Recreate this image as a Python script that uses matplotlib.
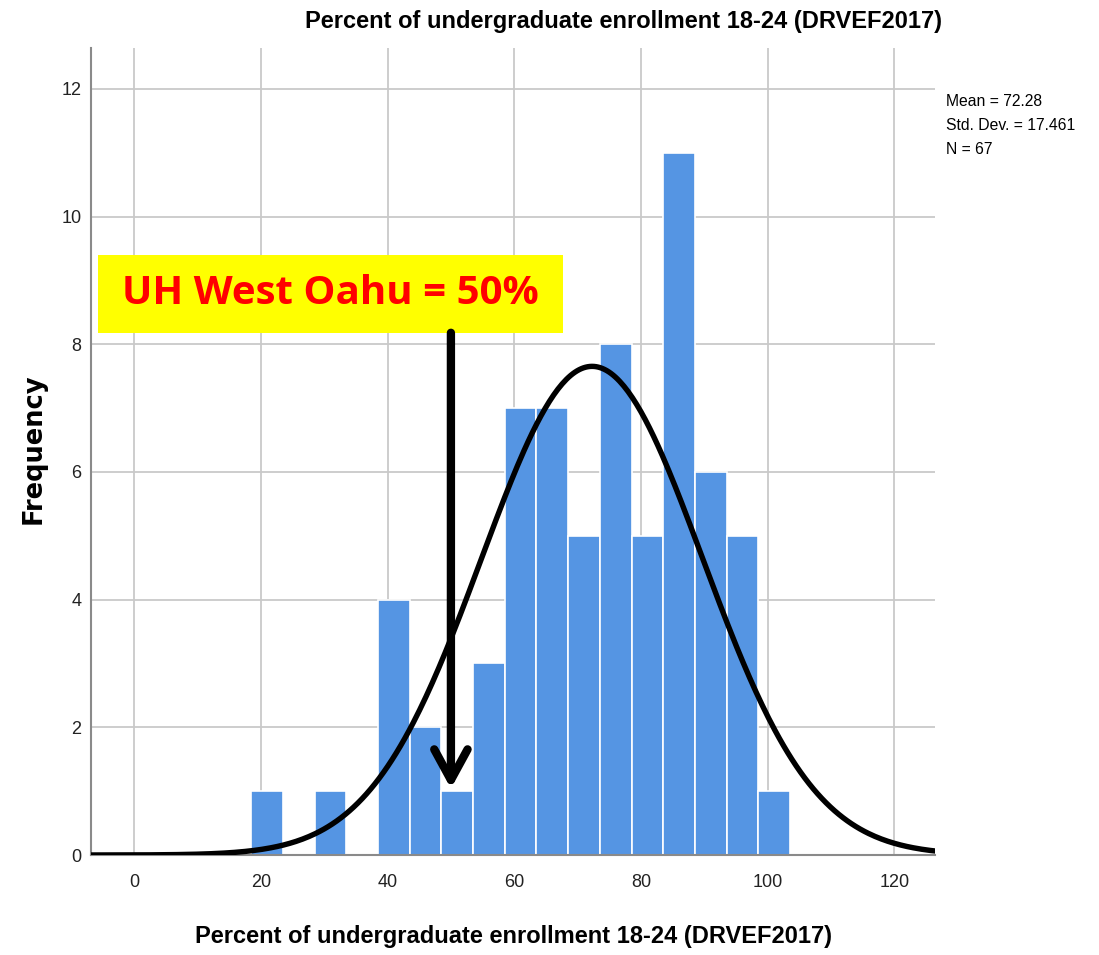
import numpy as np
import matplotlib
matplotlib.use("Agg")
import matplotlib.pyplot as plt
from matplotlib.patches import Rectangle

##################
# Data           #
##################
bin_edges = [18.5, 23.5, 28.5, 33.5, 38.5, 43.5, 48.5, 53.5, 58.5,
             63.5, 68.5, 73.5, 78.5, 83.5, 88.5, 93.5, 98.5, 103.5]
counts = [1, 0, 1, 0, 4, 2, 1, 3, 7, 7, 5, 8, 5, 11, 6, 5, 1]
x_ticks = [0, 20, 40, 60, 80, 100, 120]
y_ticks = [0, 2, 4, 6, 8, 10, 12]
stat_mean = 72.28
stat_sd = 17.461
stat_n = 67
highlight_value = 50
highlight_label = "UH West Oahu = 50%"
title_text = "Percent of undergraduate enrollment 18-24 (DRVEF2017)"

BAR_COLOR = "#5595e3"
GRID_COLOR = "#c9c9c9"
NARROW = ["Liberation Sans Narrow", "Liberation Sans", "DejaVu Sans"]

fig = plt.figure(figsize=(10.99, 9.55), dpi=100)
ax = fig.add_axes([0.0828, 0.1047, 0.7680, 0.8450])

widths = np.diff(bin_edges)
ax.bar(bin_edges[:-1], counts, width=widths, align="edge",
       color=BAR_COLOR, edgecolor="white", linewidth=1.2, zorder=2)

# fitted normal curve from the displayed statistics
xs = np.linspace(-7, 127, 400)
bw = widths[0]
pdf = stat_n * bw / (stat_sd * np.sqrt(2 * np.pi)) * np.exp(-0.5 * ((xs - stat_mean) / stat_sd) ** 2)
ax.plot(xs, pdf, color="black", lw=3.9, zorder=3, solid_capstyle="butt")

ax.set_xlim(-6.8, 126.4)
ax.set_ylim(0, 12.64)
ax.set_xticks(x_ticks)
ax.set_yticks(y_ticks)
ax.grid(True, color=GRID_COLOR, lw=1.3, zorder=0)
ax.set_axisbelow(True)
ax.tick_params(length=0, labelsize=13, colors="#222222", pad=7)
for lab in ax.get_xticklabels() + ax.get_yticklabels():
    lab.set_family(NARROW)
ax.tick_params(axis="x", pad=14)
for s in ["top", "right"]:
    ax.spines[s].set_visible(False)
for s in ["left", "bottom"]:
    ax.spines[s].set_color("#8a8a8a")
    ax.spines[s].set_linewidth(1.5)

fig.text(0.467, 0.019, title_text, ha="center", va="center",
         fontsize=17, family=NARROW, fontweight="bold")
fig.text(0.031, 0.530, "Frequency", ha="center", va="center", rotation=90,
         fontsize=18.5, family=["DejaVu Sans"], fontweight="bold")

fig.text(0.567, 0.977, title_text, ha="center", va="center",
         fontsize=17, family=NARROW, fontweight="bold")

fig.text(0.861, 0.902, "Mean = %.2f\nStd. Dev. = %.3f\nN = %d" % (stat_mean, stat_sd, stat_n),
         ha="left", va="top", fontsize=11.3, family=NARROW, linespacing=1.75)

# annotation box and arrow
ax.add_patch(Rectangle((-5.7, 8.18), 73.4, 1.22, facecolor="#ffff00",
                       edgecolor="none", zorder=4, clip_on=False))
ax.text(31.0, 8.79, highlight_label, ha="center", va="center", color="#ff0000",
        fontsize=29, fontweight="bold", family=["Open Sans", "DejaVu Sans"], zorder=5)
ax.annotate("", xy=(highlight_value, 1.04), xytext=(highlight_value, 8.18),
            arrowprops=dict(arrowstyle="->,head_length=1.1,head_width=0.6",
                            lw=6, color="black", mutation_scale=20,
                            shrinkA=0, shrinkB=0),
            zorder=5)

fig.savefig("out.png", dpi=100)
